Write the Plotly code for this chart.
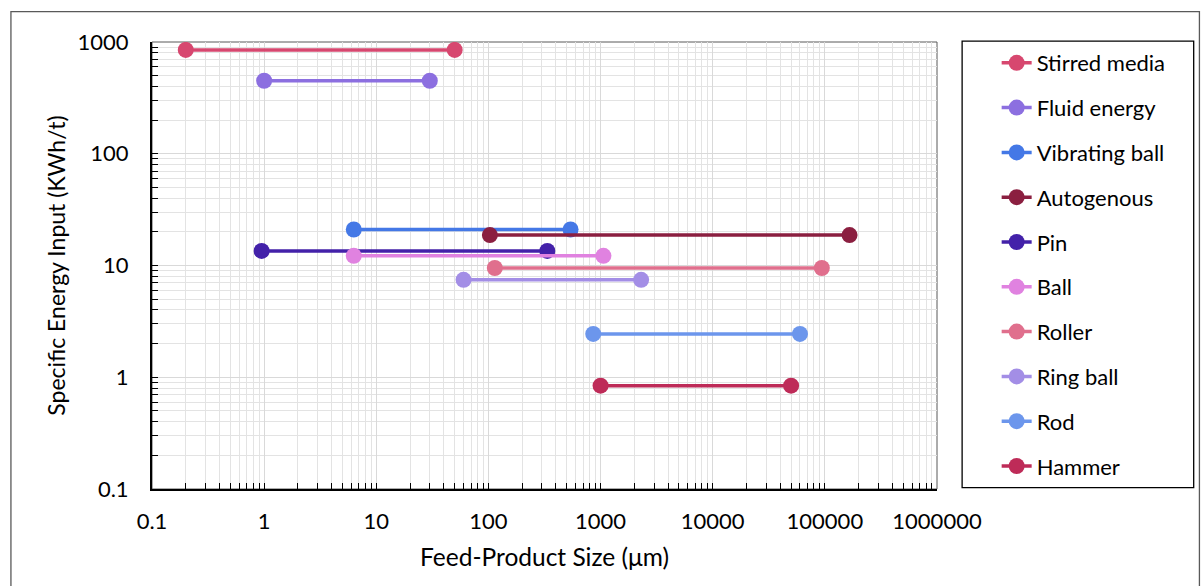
import plotly.graph_objects as go

# Mill types with their feed/product size ranges and specific energy input
mills = ["Stirred media", "Fluid energy", "Vibrating ball", "Autogenous", "Pin",
         "Ball", "Roller", "Ring ball", "Rod", "Hammer"]
size_min = [0.2, 1, 6.3, 103, 0.95, 6.3, 114, 60, 860, 1000]        # µm
size_max = [50, 30, 540, 166000, 335, 1060, 94000, 2300, 60000, 50000]  # µm
energy = [850, 450, 21, 18.7, 13.5, 12.2, 9.5, 7.45, 2.44, 0.84]      # kWh/t
colors = ["#D7476F", "#8C6FE0", "#4478E6", "#8B1F40", "#4321A9",
          "#E082E0", "#E06F8D", "#A38EE6", "#6C96EC", "#BE2B58"]

x_ticks = [0.1, 1, 10, 100, 1000, 10000, 100000, 1000000]
x_tick_text = ["0.1", "1", "10", "100", "1000", "10000", "100000", "1000000"]
y_ticks = [0.1, 1, 10, 100, 1000]
y_tick_text = ["0.1", "1", "10", "100", "1000"]


def minor_positions(decades):
    # 2..9 multiples inside each decade of a log axis
    return [d * k for d in decades[:-1] for k in range(2, 10)]


FONT = "Lato"

fig = go.Figure()
for name, lo, hi, e, c in zip(mills, size_min, size_max, energy, colors):
    fig.add_trace(go.Scatter(
        x=[lo, hi], y=[e, e], name=name, mode="lines+markers",
        line=dict(color=c, width=3.5),
        marker=dict(color=c, size=16),
        legendgroup=name,
    ))


def axis_style(major, labels, minor_vals, standoff):
    return dict(
        type="log",
        tickmode="array", tickvals=major, ticktext=labels,
        showline=True, linecolor="#000000", linewidth=2,
        ticks="inside", ticklen=6, tickcolor="#000000", tickwidth=1,
        ticklabelstandoff=standoff,
        showgrid=True, gridcolor="#D9D9D9", gridwidth=1,
        zeroline=False,
        tickfont=dict(family=FONT, size=22, color="#000000"),
        minor=dict(tickmode="array", tickvals=minor_vals,
                   ticks="inside", ticklen=6, tickcolor="#000000",
                   showgrid=True, gridcolor="#E3E3E3", gridwidth=1),
    )


fig.update_layout(
    width=1202, height=586,
    margin=dict(l=152, r=264.5, t=41.5, b=96.5),
    paper_bgcolor="#FFFFFF", plot_bgcolor="#FFFFFF",
    font=dict(family=FONT, color="#000000"),
    xaxis=dict(axis_style(x_ticks, x_tick_text, minor_positions(x_ticks), 12),
               range=[-1, 6],
               title=dict(text="Feed-Product Size (\u03bcm)",
                          font=dict(family=FONT, size=24.5), standoff=15)),
    yaxis=dict(axis_style(y_ticks, y_tick_text, minor_positions(y_ticks), 17),
               range=[-1, 3],
               title=dict(text="Specific Energy Input (KWh/t)",
                          font=dict(family=FONT, size=23), standoff=6)),
    showlegend=True,
    legend=dict(
        x=1.076, xanchor="left", y=1.0, yanchor="top",
        font=dict(family=FONT, size=22, color="#000000"),
        traceorder="grouped", tracegroupgap=13.2,
        bgcolor="rgba(0,0,0,0)", borderwidth=0,
        itemclick=False,
    ),
    shapes=[
        # plot area frame
        dict(type="rect", xref="paper", yref="paper", x0=0, x1=1, y0=0, y1=1,
             line=dict(color="#595959", width=1), layer="below"),
        # legend box
        dict(type="rect", xref="paper", yref="paper", x0=1.032, x1=1.327,
             y0=0.003, y1=1.002, line=dict(color="#000000", width=1.3)),
        # outer chart border
        dict(type="rect", xref="paper", yref="paper", x0=-0.1797, x1=1.3343,
             y0=-0.35, y1=1.068, line=dict(color="#595959", width=1.3)),
    ],
)

fig.write_html("out.html")
